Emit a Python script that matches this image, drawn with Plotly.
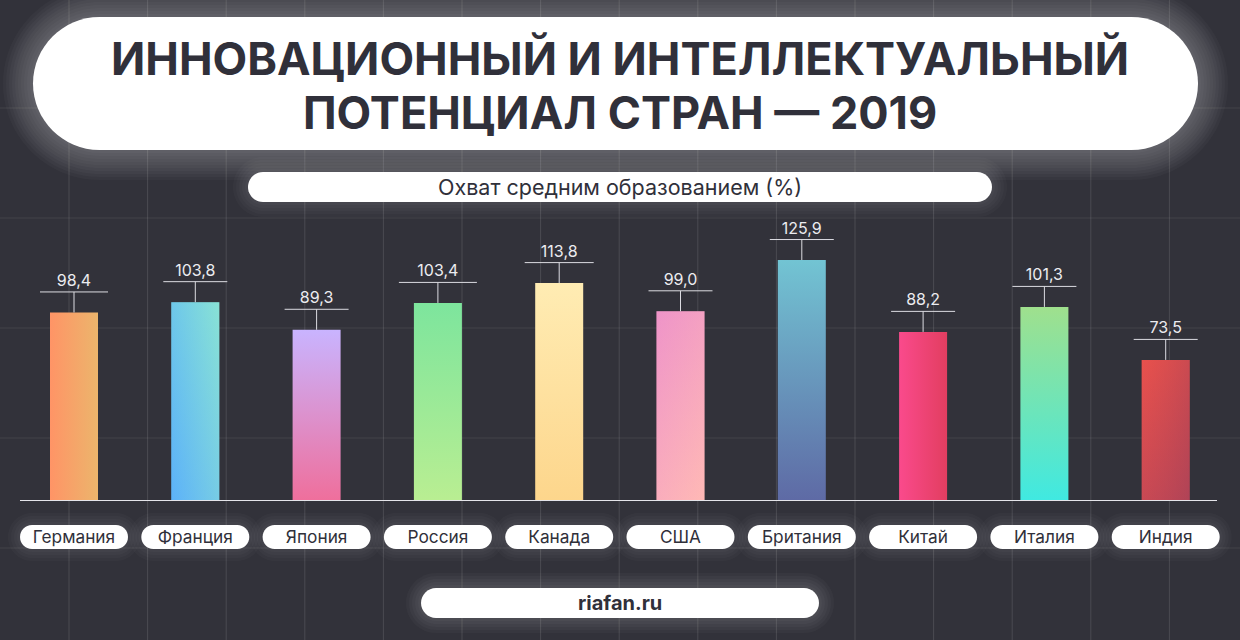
import plotly.graph_objects as go

# === Data ===
countries = ["Германия", "Франция", "Япония", "Россия", "Канада", "США", "Британия", "Китай", "Италия", "Индия"]
values = [98.4, 103.8, 89.3, 103.4, 113.8, 99.0, 125.9, 88.2, 101.3, 73.5]

# colours per bar: (gradient type, bottom or left colour, top or right colour)
bar_colors = [
    ("horizontal", "#ff9466", "#ecb56c"),
    ("vertical", "#66b8f4", "#86dfd8"),
    ("vertical", "#ef6f9c", "#c9b4ff"),
    ("vertical", "#b9ee92", "#7de59d"),
    ("vertical", "#fdd68c", "#ffecb3"),
    ("vertical", "#ffb9b6", "#ee93c9"),
    ("vertical", "#5e6aa5", "#72c4d3"),
    ("horizontal", "#fa4a8c", "#e23e60"),
    ("vertical", "#40e9e1", "#9fe08d"),
    ("vertical", "#b84558", "#e8514d"),
]
# diagonal look: see-through left/right tint on some bars
bar_tints = {
    1: ("rgba(80,170,255,0.45)", "rgba(140,230,210,0.45)"),
    5: ("rgba(240,150,200,0.35)", "rgba(255,185,180,0.35)"),
    9: ("rgba(232,80,76,0.35)", "rgba(165,65,85,0.45)"),
}
cap_px = [68, 64, 64, 78, 69, 64, 64, 64, 64, 64]

title_lines = ["ИННОВАЦИОННЫЙ И ИНТЕЛЛЕКТУАЛЬНЫЙ", "ПОТЕНЦИАЛ СТРАН — 2019"]
subtitle_text = "Охват средним образованием (%)"
source_text = "riafan.ru"

BG = "#32323a"
DARK = "#30303a"
FONT = "Inter"
W, H = 1240, 640

# пиксели -> оси
PX_PER_UNIT = 1.906
X0_PX, STEP_PX = 74, 121.3
BASE_PX = 500
x_left, x_right = 20, 1217
xrange_ = [(x_left - X0_PX) / STEP_PX, (x_right - X0_PX) / STEP_PX]
yrange_ = [0, BASE_PX / PX_PER_UNIT]
half_bar = 24 / STEP_PX
lead = 20.5 / PX_PER_UNIT
label_gap = 2 / PX_PER_UNIT


def pill(x0, y0, x1, y1, r=None):
    # rounded rect as a path in paper coordinates
    r = min(r or 999, (y1 - y0) / 2)
    k = r * 0.45
    fx = lambda v: round(v / W, 5)
    fy = lambda v: round(1 - v / H, 5)
    p = [f"M{fx(x0 + r)},{fy(y0)}", f"L{fx(x1 - r)},{fy(y0)}",
         f"C{fx(x1 - k)},{fy(y0)} {fx(x1)},{fy(y0 + k)} {fx(x1)},{fy(y0 + r)}",
         f"L{fx(x1)},{fy(y1 - r)}",
         f"C{fx(x1)},{fy(y1 - k)} {fx(x1 - k)},{fy(y1)} {fx(x1 - r)},{fy(y1)}",
         f"L{fx(x0 + r)},{fy(y1)}",
         f"C{fx(x0 + k)},{fy(y1)} {fx(x0)},{fy(y1 - k)} {fx(x0)},{fy(y1 - r)}",
         f"L{fx(x0)},{fy(y0 + r)}",
         f"C{fx(x0)},{fy(y0 + k)} {fx(x0 + k)},{fy(y0)} {fx(x0 + r)},{fy(y0)}", "Z"]
    return " ".join(p)


def glow_pill(x0, y0, x1, y1, spread, alpha, step=3):
    # glow = a few see-through copies, then the white pill on top
    out = []
    for g in range(spread, 0, -step):
        out.append(dict(type="path", path=pill(x0 - g, y0 - g, x1 + g, y1 + g),
                        xref="paper", yref="paper", layer="below", line_width=0,
                        fillcolor=f"rgba(255,255,255,{alpha})"))
    out.append(dict(type="path", path=pill(x0, y0, x1, y1), xref="paper", yref="paper",
                    layer="below", line_width=0, fillcolor="#ffffff"))
    return out


shapes = []
# фоновая сетка
for n in range(15):
    xp = (69 + 78.6 * n) / W
    shapes.append(dict(type="line", xref="paper", yref="paper", x0=xp, x1=xp, y0=0, y1=1,
                       layer="below", line=dict(color="rgba(255,255,255,0.12)", width=1)))
for n in range(5):
    yp = 1 - (108 + 110 * n) / H
    shapes.append(dict(type="line", xref="paper", yref="paper", x0=0, x1=1, y0=yp, y1=yp,
                       layer="below", line=dict(color="rgba(255,255,255,0.08)", width=1)))

shapes += glow_pill(33, 17, 1198, 150, 30, 0.028)
shapes += glow_pill(248, 172, 992, 202, 15, 0.022)
shapes += glow_pill(421, 588, 819, 618, 15, 0.028)
for i in range(len(countries)):
    cx = X0_PX + STEP_PX * i
    shapes += glow_pill(cx - 54, 525, cx + 54, 549, 12, 0.022)

fig = go.Figure()

# столбцы
for i, (name, v) in enumerate(zip(countries, values)):
    kind, c1, c2 = bar_colors[i]
    xs = [i - half_bar, i - half_bar, i + half_bar, i + half_bar, i - half_bar]
    ys = [0, v, v, 0, 0]
    fig.add_trace(go.Scatter(
        x=xs, y=ys, name=name, mode="lines", line=dict(width=0), fill="toself",
        fillgradient=dict(type=kind, colorscale=[[0, c1], [1, c2]]),
        hoverinfo="skip", showlegend=False,
    ))
    if i in bar_tints:
        t1, t2 = bar_tints[i]
        fig.add_trace(go.Scatter(
            x=xs, y=ys, mode="lines", line=dict(width=0), fill="toself",
            fillgradient=dict(type="horizontal", colorscale=[[0, t1], [1, t2]]),
            hoverinfo="skip", showlegend=False,
        ))

# выноски
for i, v in enumerate(values):
    w = cap_px[i] / 2 / STEP_PX
    fig.add_trace(go.Scatter(
        x=[i, i, None, i - w, i + w], y=[v, v + lead, None, v + lead, v + lead],
        mode="lines", line=dict(color="#dcdce2", width=1), hoverinfo="skip", showlegend=False,
    ))

fig.add_trace(go.Scatter(
    x=list(range(len(values))), y=[v + lead + label_gap for v in values],
    text=[f"{v:.1f}".replace(".", ",") for v in values],
    mode="text", textposition="top center",
    textfont=dict(family=FONT, size=16, color="#ececf0"),
    hoverinfo="skip", showlegend=False,
))

annotations = [
    dict(text=title_lines[0], x=620 / W, y=1 - 59 / H, xref="paper", yref="paper", yanchor="middle",
         showarrow=False, font=dict(family=FONT, size=45, color=DARK, weight=700)),
    dict(text=title_lines[1], x=620 / W, y=1 - 112 / H, xref="paper", yref="paper", yanchor="middle",
         showarrow=False, font=dict(family=FONT, size=45, color=DARK, weight=700)),
    dict(text=subtitle_text, x=620 / W, y=1 - 187 / H, xref="paper", yref="paper", yanchor="middle",
         showarrow=False, font=dict(family=FONT, size=21.5, color=DARK)),
    dict(text=source_text, x=620 / W, y=1 - 603 / H, xref="paper", yref="paper", yanchor="middle",
         showarrow=False, font=dict(family=FONT, size=20, color=DARK, weight=700)),
]

fig.update_layout(
    width=W, height=H,
    margin=dict(l=0, r=0, t=0, b=0),
    paper_bgcolor=BG, plot_bgcolor="rgba(0,0,0,0)",
    shapes=shapes,
    showlegend=False,
    xaxis=dict(domain=[x_left / W, x_right / W], range=xrange_,
               tickmode="array", tickvals=list(range(len(countries))), ticktext=countries,
               showgrid=False, zeroline=False, showline=True, linecolor="#e4e4ea", linewidth=1.2,
               ticks="", ticklabelstandoff=21,
               tickfont=dict(family=FONT, size=17.3, color=DARK)),
    yaxis=dict(domain=[1 - BASE_PX / H, 1], range=yrange_, visible=False),
    annotations=annotations,
)

# без полей страницы, иначе всё съезжает на 8px
fig.write_html("out.html", config={"displayModeBar": False},
               post_script="document.body.style.margin='0';document.body.style.overflow='hidden';")
